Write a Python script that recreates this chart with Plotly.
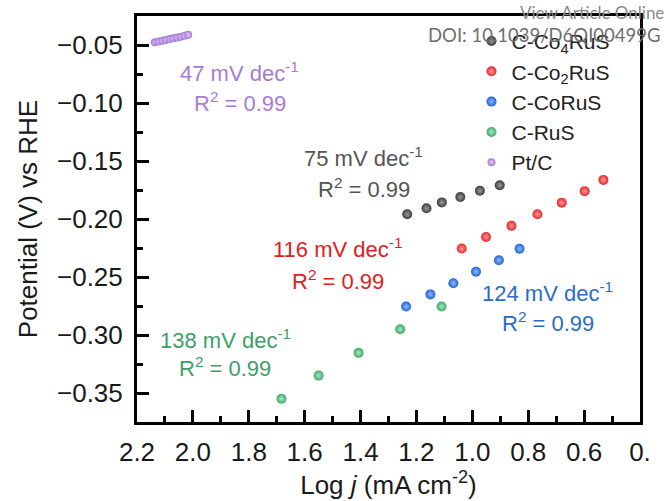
import plotly.graph_objects as go

# ---- data ----
series_names = ["C-Co<sub>4</sub>RuS", "C-Co<sub>2</sub>RuS", "C-CoRuS", "C-RuS", "Pt/C"]

x_co4 = [1.233, 1.164, 1.109, 1.043, 0.973, 0.902]
y_co4 = [-0.1959, -0.1908, -0.1857, -0.1811, -0.1757, -0.1709]

x_co2 = [1.038, 0.951, 0.860, 0.767, 0.680, 0.598, 0.531]
y_co2 = [-0.2255, -0.2155, -0.2059, -0.1959, -0.1859, -0.1760, -0.1663]

x_co = [1.237, 1.150, 1.068, 0.987, 0.905, 0.831]
y_co = [-0.2755, -0.2650, -0.2554, -0.2454, -0.2356, -0.2256]

x_rus = [1.683, 1.550, 1.407, 1.258, 1.110]
y_rus = [-0.3549, -0.3350, -0.3154, -0.2951, -0.2755]

x_pt = [2.136, 2.123, 2.110, 2.097, 2.083, 2.070, 2.057, 2.044, 2.030, 2.017]
y_pt = [-0.0477, -0.0470, -0.0463, -0.0456, -0.0449, -0.0442, -0.0435, -0.0428, -0.0421, -0.0412]

tafel_labels = ["75 mV dec<sup>-1</sup>", "116 mV dec<sup>-1</sup>", "124 mV dec<sup>-1</sup>",
                "138 mV dec<sup>-1</sup>", "47 mV dec<sup>-1</sup>"]
r2_label = "R<sup>2</sup> = 0.99"

x_tickvals = [2.2, 2.0, 1.8, 1.6, 1.4, 1.2, 1.0, 0.8, 0.6, 0.4]
x_ticktext = ["2.2", "2.0", "1.8", "1.6", "1.4", "1.2", "1.0", "0.8", "0.6", "0."]
y_tickvals = [-0.05, -0.10, -0.15, -0.20, -0.25, -0.30, -0.35]

# ---- styles ----
marker_colors = ["#3C3C3C", "#E8282C", "#1F66D1", "#3DAA6B", "#A678D8"]
highlight = ["#9A9A9A", "#FF9A9A", "#8FB8FF", "#A8E6C0", "#E2CCF5"]
text_colors = ["#555555", "#E02020", "#2A6CC8", "#3E9E68", "#A77BD4"]
sizes = [10, 10, 10, 10, 8]
label_pos = [((1.389, -0.1464), (1.386, -0.1737)),
             ((1.482, -0.2249), (1.482, -0.2522)),
             ((0.732, -0.2633), (0.729, -0.2889)),
             ((1.882, -0.3034), (1.886, -0.3273)),
             ((1.832, -0.0730), (1.832, -0.0995))]

FONT = "Liberation Sans, Arial, sans-serif"

fig = go.Figure()
xs = [x_co4, x_co2, x_co, x_rus, x_pt]
ys = [y_co4, y_co2, y_co, y_rus, y_pt]
for i in range(5):
    fig.add_trace(go.Scatter(
        x=xs[i], y=ys[i], mode="markers", name=series_names[i],
        marker=dict(size=sizes[i], color=marker_colors[i],
                    gradient=dict(type="radial", color=highlight[i]),
                    line=dict(width=0)),
    ))

annotations = []
for i in range(5):
    (x1, y1), (x2, y2) = label_pos[i]
    annotations.append(dict(x=x1, y=y1, xref="x", yref="y", text=tafel_labels[i],
                            showarrow=False, font=dict(family=FONT, size=22, color=text_colors[i])))
    annotations.append(dict(x=x2, y=y2, xref="x", yref="y", text=r2_label,
                            showarrow=False, font=dict(family=FONT, size=22, color=text_colors[i])))

# watermark text at top right
annotations.append(dict(x=1.052, y=1.0098, xref="paper", yref="paper", xanchor="right", yanchor="middle",
                        text="View Article Online", showarrow=False,
                        font=dict(family="Lato, sans-serif", size=17, color="#8A8A8A")))
annotations.append(dict(x=1.044, y=0.954, xref="paper", yref="paper", xanchor="right", yanchor="middle",
                        text="DOI: 10.1039/D6QI00499G", showarrow=False,
                        font=dict(family="Lato, sans-serif", size=18.5, color="#6E6E6E")))

fig.update_layout(
    width=664, height=501,
    margin=dict(l=137, r=24, t=16, b=75),
    paper_bgcolor="white", plot_bgcolor="white",
    font=dict(family=FONT, size=26, color="#1a1a1a"),
    showlegend=True,
    legend=dict(x=0.665, y=0.988, xanchor="left", yanchor="top",
                font=dict(family=FONT, size=21, color="#222222"),
                bgcolor="rgba(0,0,0,0)", tracegroupgap=0, itemsizing="trace"),
    annotations=annotations,
)

fig.update_xaxes(
    range=[2.2, 0.4], autorange=False,
    tickvals=x_tickvals, ticktext=x_ticktext,
    ticks="inside", ticklen=12, tickwidth=3, tickcolor="black",
    minor=dict(ticks="inside", ticklen=6, tickwidth=3, tickcolor="black", dtick=0.1, tick0=0.0),
    showline=True, linewidth=3, linecolor="black", mirror=True,
    showgrid=False, zeroline=False,
    tickfont=dict(family=FONT, size=26, color="#1a1a1a"),
    ticklabelstandoff=5,
    title=dict(text="Log <i>j</i> (mA cm<sup>-2</sup>)", standoff=4,
               font=dict(family=FONT, size=26, color="#1a1a1a")),
)
fig.update_yaxes(
    range=[-0.375, -0.025], autorange=False,
    tickvals=y_tickvals, tickformat=".2f",
    ticks="inside", ticklen=12, tickwidth=3, tickcolor="black",
    minor=dict(ticks="inside", ticklen=6, tickwidth=3, tickcolor="black", dtick=0.025, tick0=0.0),
    showline=True, linewidth=3, linecolor="black", mirror=True,
    showgrid=False, zeroline=False,
    tickfont=dict(family=FONT, size=26, color="#1a1a1a"),
    ticklabelstandoff=6,
    title=dict(text="Potential (V) vs RHE", standoff=12,
               font=dict(family=FONT, size=26, color="#1a1a1a")),
)

fig.write_html("out.html")
